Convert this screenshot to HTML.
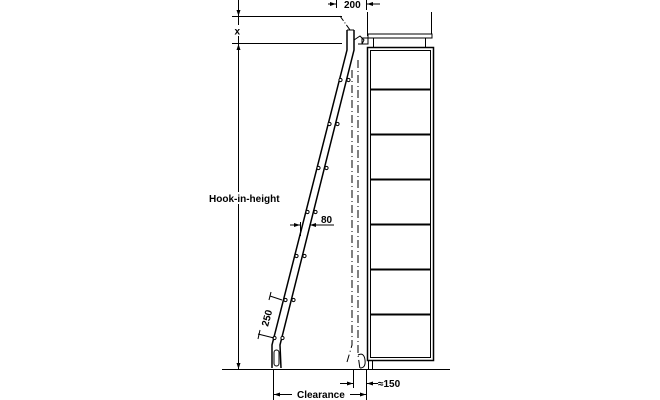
<!DOCTYPE html>
<html><head><style>
html,body{margin:0;padding:0;background:#fff;width:660px;height:400px;overflow:hidden}
text{font-family:"Liberation Sans",Arial,sans-serif;font-weight:bold;font-size:10px;fill:#000}
</style></head><body>
<svg width="660" height="400" viewBox="0 0 660 400" xmlns="http://www.w3.org/2000/svg">
<g stroke="#000" fill="none" stroke-width="1">
<line x1="222" y1="369.5" x2="450" y2="369.5"/>
<line x1="238.5" y1="0" x2="238.5" y2="369"/>
<line x1="232" y1="16.5" x2="342" y2="16.5"/>
<line x1="232" y1="43.5" x2="342" y2="43.5"/>
<line x1="367.5" y1="12" x2="367.5" y2="36"/>
<line x1="431.5" y1="12" x2="431.5" y2="36"/>
<rect x="368" y="34" width="64" height="4" fill="#fff"/>
<line x1="373.5" y1="38" x2="373.5" y2="47"/>
<line x1="425.5" y1="38" x2="425.5" y2="47"/>
<rect x="367.5" y="47.5" width="66" height="313" stroke-width="1.5"/>
<rect x="370.5" y="50.5" width="60" height="307"/>
<line x1="370" y1="89.5" x2="431" y2="89.5" stroke-width="2"/>
<line x1="370" y1="134.5" x2="431" y2="134.5" stroke-width="2"/>
<line x1="370" y1="179.5" x2="431" y2="179.5" stroke-width="2"/>
<line x1="370" y1="224.5" x2="431" y2="224.5" stroke-width="2"/>
<line x1="370" y1="269.5" x2="431" y2="269.5" stroke-width="2"/>
<line x1="370" y1="314.5" x2="431" y2="314.5" stroke-width="2"/>
<line x1="368.5" y1="360" x2="368.5" y2="369"/>
<line x1="372.5" y1="360" x2="372.5" y2="369"/>
<path d="M340 16 L350 30" stroke-dasharray="6,2,1,2"/>
<path d="M358 60 L358 355 L360 369" stroke-dasharray="8,3,1,3"/>
<path d="M352 70 L352 345 L347 362" stroke-dasharray="8,3,1,3"/>
<path d="M347 30 L347 50 L272 345 L272 368" stroke-width="1.5"/>
<path d="M354 30 L354 50 L280 345 L281 368" stroke-width="1.5"/>
<path d="M347 30 L354 30"/>
<rect x="274" y="350" width="5" height="16" rx="2.5"/>
<path d="M354 40 L360 36 L364 40 L362 44 L358 44" />
<rect x="362" y="38" width="6" height="6"/>
<path d="M358 355 Q364 352 365 360 Q366 368 360 368"/>
</g>
<g fill="#fff" stroke="#000" stroke-width="1">
<circle cx="340.5" cy="80" r="1.6"/><circle cx="348.5" cy="80" r="1.6"/>
<circle cx="329.5" cy="124" r="1.6"/><circle cx="337.5" cy="124" r="1.6"/>
<circle cx="318.5" cy="168" r="1.6"/><circle cx="326.5" cy="168" r="1.6"/>
<circle cx="307.5" cy="212" r="1.6"/><circle cx="315.5" cy="212" r="1.6"/>
<circle cx="296.5" cy="256" r="1.6"/><circle cx="304.5" cy="256" r="1.6"/>
<circle cx="285.5" cy="300" r="1.6"/><circle cx="293.5" cy="300" r="1.6"/>
<circle cx="274.5" cy="338" r="1.6"/><circle cx="282.5" cy="338" r="1.6"/>
</g>
<g stroke="#000" stroke-width="1" fill="none">
<line x1="336.5" y1="0" x2="336.5" y2="8"/>
<line x1="366.5" y1="0" x2="366.5" y2="10"/>
<line x1="328" y1="4" x2="336" y2="4"/><line x1="367" y1="4" x2="380" y2="4"/>
<line x1="300.5" y1="222" x2="300.5" y2="236"/>
<line x1="290" y1="225" x2="300" y2="225"/>
<line x1="310" y1="225" x2="334" y2="225"/>
<line x1="270" y1="296" x2="282" y2="300"/>
<line x1="258" y1="334" x2="274" y2="338"/>
<line x1="271" y1="292" x2="269" y2="300"/>
<line x1="260" y1="330" x2="258" y2="339"/>
<line x1="273.5" y1="370" x2="273.5" y2="400"/>
<line x1="366.5" y1="370" x2="366.5" y2="400"/>
<line x1="274" y1="394.5" x2="292" y2="394.5"/>
<line x1="350" y1="394.5" x2="366" y2="394.5"/>
<line x1="353.5" y1="370" x2="353.5" y2="388"/>
<line x1="340" y1="383.5" x2="353" y2="383.5"/>
<line x1="367" y1="383.5" x2="378" y2="383.5"/>
</g>
<g fill="#000">
<path d="M336 4 l-6 -2 v4z"/><path d="M367 4 l6 -2 v4z"/>
<path d="M238.5 16 l-2 -6 h4z"/><path d="M238.5 44 l-2 6 h4z"/>
<path d="M300 225 l-6 -2 v4z"/><path d="M310 225 l6 -2 v4z"/>
<path d="M274 394.5 l6 -2 v4z"/><path d="M366 394.5 l-6 -2 v4z"/>
<path d="M353 383.5 l-6 -2 v4z"/><path d="M367 383.5 l6 -2 v4z"/>
<path d="M238.5 369 l-2 -6 h4z"/>
</g>
<text x="344" y="8" font-size="10">200</text>
<rect x="233" y="25" width="11" height="11" fill="#fff"/>
<text x="234.5" y="34.5" font-size="10">x</text>
<rect x="206" y="192" width="70" height="12" fill="#fff"/>
<text x="209" y="202" font-size="9.5">Hook-in-height</text>
<text x="321" y="223" font-size="10">80</text>
<text x="268" y="327" transform="rotate(-75 268 327)" font-size="10">250</text>
<text x="297" y="398" font-size="10">Clearance</text>
<text x="378" y="387" font-size="10">≈150</text>
</svg>
</body></html>
